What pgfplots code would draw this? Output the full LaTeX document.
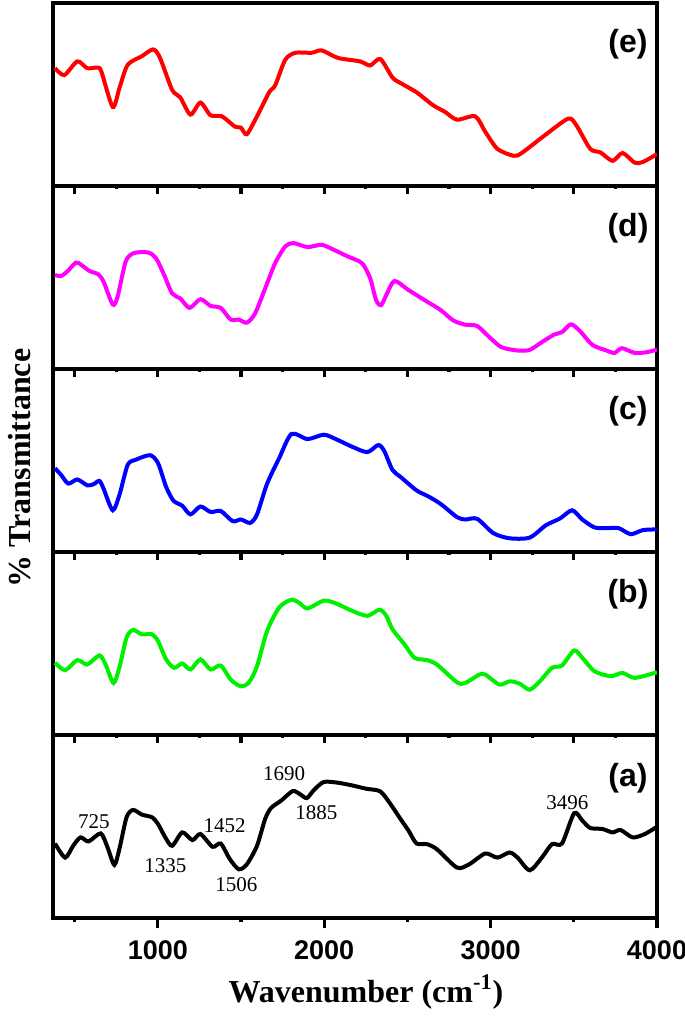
\documentclass[border=0pt]{standalone}
\usepackage{fontspec}
\setmainfont{Liberation Serif}
\newfontfamily\arialfont{Liberation Sans}
\usepackage{pgfplots}
\pgfplotsset{compat=1.18}

\definecolor{cRed}{RGB}{255,0,0}
\definecolor{cMag}{RGB}{255,0,255}
\definecolor{cBlue}{RGB}{0,0,255}
\definecolor{cGreen}{RGB}{0,240,0}

\newcommand{\ticklab}{\arialfont\bfseries\fontsize{13.5}{15}\selectfont}
\newcommand{\panlab}{\arialfont\bfseries\fontsize{16}{18}\selectfont}
\newcommand{\annot}{\fontsize{10.5}{12}\selectfont}

\pgfplotsset{
  panel/.style={
    width=302pt, height=91.5pt, scale only axis,
    xmin=370, xmax=4000, ymin=0, ymax=183,
    ytick=\empty,
    axis line style={line width=1.7pt},
    xtick pos=bottom, tick align=outside,
    xtick={500,1000,...,4000},
    minor xtick={750,1250,...,3750},
    major tick length=4pt, minor tick length=1.5pt,
    xticklabel=\empty,
    every tick/.style={line width=1.6pt, black},
    anchor=south west,
  },
  curve/.style={line width=2pt, smooth, tension=0.45},
}

\begin{document}
\begin{tikzpicture}

% (a) bottom panel
\begin{axis}[panel, at={(0,0)},
    xtick={1000,2000,3000,4000},
    minor xtick={500,1500,2500,3500},
    major tick length=5pt, minor tick length=2pt,
    xticklabel={\pgfmathprintnumber{\tick}},
    /pgf/number format/assume math mode=true,
    /pgf/number format/1000 sep={},
    ticklabel style={font=\ticklab},
    xticklabel style={yshift=-3pt}]
\addplot[curve, black] coordinates {
(382,74.5) (443,60.4) (491,72.2) (535,80.6) (584,76.6) (657,84.6) (698,70.5)
(739,53.1) (771,70.5) (812,100.7) (851,108.1) (904,103.4) (965,100.7) (1001,94.0)
(1045,80.6) (1086,72.2) (1147,85.6) (1208,77.9) (1256,84.0) (1329,71.2) (1378,74.5)
(1433,58.8) (1487,48.7) (1535,53.7) (1596,72.2) (1645,99.1) (1681,110.1) (1742,117.5)
(1810,126.9) (1851,124.2) (1895,119.9) (1936,127.6) (1997,136.0) (2082,135.3)
(2167,132.6) (2252,129.3) (2337,126.6) (2397,114.2) (2458,99.1) (2507,87.3)
(2555,74.5) (2616,73.9) (2677,68.8) (2798,50.4) (2871,53.7) (2968,64.5) (3041,60.4)
(3114,65.5) (3162,60.4) (3235,47.7) (3308,60.4) (3369,73.9) (3429,74.5) (3502,104.8)
(3551,97.4) (3599,90.0) (3672,89.0) (3733,85.6) (3781,88.0) (3854,80.6) (3927,84.0)
(4000,91.3)
};
\node[font=\panlab] at (rel axis cs:0.952,0.765) {(a)};
\node[font=\annot] at (axis cs:615,96.7) {725};
\node[font=\annot] at (axis cs:1045,52) {1335};
\node[font=\annot] at (axis cs:1402,92) {1452};
\node[font=\annot] at (axis cs:1472,32.9) {1506};
\node[font=\annot] at (axis cs:1759,144.1) {1690};
\node[font=\annot] at (axis cs:1953,105.4) {1885};
\node[font=\annot] at (axis cs:3461,115.5) {3496};
\end{axis}

% (b)
\begin{axis}[panel, at={(0,91.5pt)}]
\addplot[curve, cGreen] coordinates {
(382,72.2) (443,64.8) (516,74.9) (576,70.5) (649,79.6) (686,70.5) (734,52.0)
(771,68.8) (812,97.4) (851,105.1) (904,100.7) (965,100.7) (1001,94.0) (1050,75.6)
(1098,67.2) (1147,71.5) (1196,65.5) (1256,75.6) (1317,65.5) (1378,69.5) (1438,55.4)
(1499,48.7) (1548,52.7) (1596,68.8) (1657,104.1) (1730,127.6) (1803,135.3)
(1851,132.0) (1900,126.6) (1997,134.3) (2070,131.6) (2167,124.2) (2259,119.2)
(2332,125.3) (2373,119.2) (2410,105.8) (2482,90.7) (2543,77.2) (2616,74.9)
(2677,70.5) (2798,52.7) (2847,52.0) (2932,60.4) (2968,60.4) (3053,50.4) (3114,53.7)
(3174,51.4) (3235,45.3) (3296,53.7) (3369,67.2) (3429,69.5) (3502,84.6) (3551,77.2)
(3624,63.8) (3721,58.8) (3793,62.1) (3866,57.1) (4000,62.8)
};
\node[font=\panlab] at (rel axis cs:0.952,0.77) {(b)};
\end{axis}

% (c)
\begin{axis}[panel, at={(0,183pt)}]
\addplot[curve, cBlue] coordinates {
(382,83.8) (419,77.0) (462,68.4) (516,72.5) (576,66.7) (613,67.7) (649,71.1)
(674,63.3) (729,41.7) (771,58.1) (819,87.2) (868,92.3) (953,96.8) (1001,88.9)
(1050,65.0) (1094,51.3) (1147,46.2) (1196,37.6) (1256,45.5) (1317,40.0) (1378,41.0)
(1450,30.8) (1499,32.5) (1555,29.1) (1596,37.6) (1657,68.4) (1730,94.1) (1803,118.0)
(1900,112.9) (1997,117.3) (2070,112.9) (2167,105.3) (2259,99.9) (2325,107.0)
(2361,100.9) (2410,82.1) (2458,75.2) (2555,61.6) (2628,55.4) (2701,47.9) (2798,34.9)
(2847,32.5) (2919,33.2) (3017,18.8) (3114,13.7) (3235,14.4) (3332,26.7) (3417,33.5)
(3490,41.7) (3551,32.5) (3624,24.6) (3696,23.9) (3769,23.9) (3842,17.8) (3915,21.9)
(4000,22.6)
};
\node[font=\panlab] at (rel axis cs:0.952,0.77) {(c)};
\end{axis}

% (d)
\begin{axis}[panel, at={(0,274.5pt)}]
\addplot[curve, cMag] coordinates {
(382,94.0) (419,93.0) (455,97.4) (508,106.4) (540,104.1) (589,98.1) (642,94.7)
(674,87.3) (729,64.5) (758,72.2) (807,107.5) (856,115.9) (941,116.5) (989,110.8)
(1038,94.0) (1086,75.6) (1135,70.5) (1191,61.1) (1256,69.8) (1317,63.1) (1378,61.1)
(1438,49.4) (1487,49.4) (1535,46.3) (1584,55.4) (1645,80.6) (1705,105.8) (1766,122.6)
(1815,125.9) (1900,121.9) (1985,124.2) (2057,119.2) (2142,112.5) (2227,105.8)
(2276,90.7) (2312,68.8) (2342,63.8) (2373,73.9) (2422,88.0) (2507,78.9) (2604,68.8)
(2701,58.8) (2774,48.7) (2847,44.3) (2919,43.0) (2992,31.9) (3065,21.8) (3162,18.5)
(3235,19.1) (3308,26.9) (3381,34.3) (3429,36.9) (3483,44.7) (3539,37.6) (3611,24.2)
(3696,18.5) (3745,16.1) (3789,20.8) (3866,16.1) (3939,16.8) (4000,19.5)
};
\node[font=\panlab] at (rel axis cs:0.952,0.77) {(d)};
\end{axis}

% (e)
\begin{axis}[panel, at={(0,366pt)}]
\addplot[curve, cRed] coordinates {
(382,117.8) (438,110.9) (516,124.6) (576,117.8) (637,118.4) (661,114.3) (729,79.0)
(771,98.9) (819,121.2) (904,129.8) (972,136.6) (1013,128.1) (1086,96.1) (1135,88.6)
(1196,71.4) (1256,83.4) (1317,70.7) (1385,69.7) (1463,59.4) (1499,58.4) (1535,51.8)
(1596,69.7) (1669,93.7) (1705,100.6) (1766,126.3) (1827,133.2) (1924,133.2)
(1985,135.6) (2082,128.1) (2215,124.6) (2276,120.5) (2337,127.0) (2410,108.5)
(2458,103.0) (2555,93.7) (2652,81.0) (2725,74.2) (2798,66.3) (2907,69.7) (2968,54.2)
(3041,37.1) (3138,30.2) (3187,33.0) (3332,51.5) (3466,67.3) (3514,61.1) (3599,37.1)
(3660,33.6) (3733,25.1) (3793,33.0) (3866,23.3) (3915,24.0) (4000,31.9)
};
\node[font=\panlab] at (rel axis cs:0.952,0.776) {(e)};
\end{axis}

\node[rotate=90, font=\bfseries\fontsize{16}{18}\selectfont] at (-16.5pt,225pt) {\% Transmittance};
\node[anchor=base, font=\bfseries\fontsize{16}{18}\selectfont] at (156.5pt,-42pt) {Wavenumber (cm\textsuperscript{-1})};

\pgfresetboundingbox
\useasboundingbox (-26.5pt,-49.5pt) rectangle (316pt,459pt);
\end{tikzpicture}
\end{document}
